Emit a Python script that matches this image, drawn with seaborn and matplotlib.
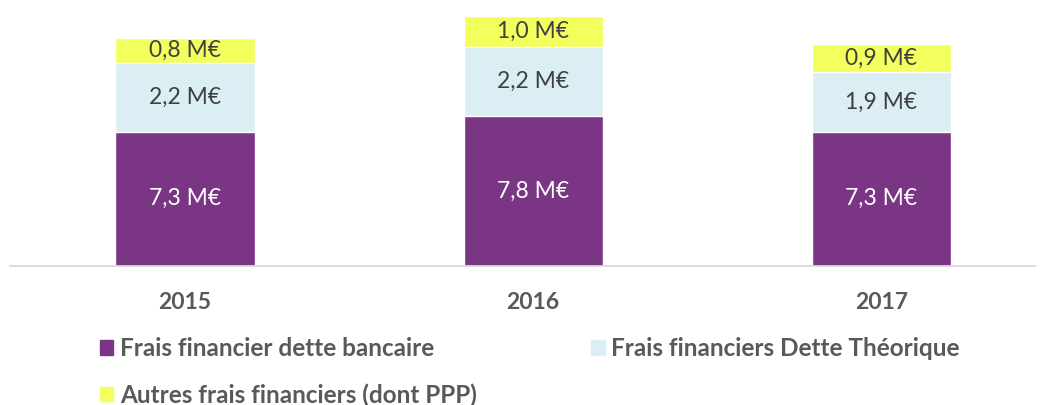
import matplotlib
matplotlib.use("Agg")
import matplotlib.pyplot as plt
import seaborn as sns
import pandas as pd
from matplotlib.patches import Patch

# values (M€)
years = ["2015", "2016", "2017"]
dette_bancaire = [7.3, 7.8, 7.3]
dette_theorique = [2.2, 2.2, 1.9]
autres_frais = [0.8, 1.0, 0.9]

series_names = ["Frais financier dette bancaire",
                "Frais financiers Dette Théorique",
                "Autres frais financiers (dont PPP)"]
colors = ["#7B3585", "#DAEEF3", "#F3FF5C"]

sns.set_style("white")
plt.rcParams["font.family"] = ["Lato", "DejaVu Sans"]

df = pd.DataFrame({"year": years,
                   "bancaire": dette_bancaire,
                   "theorique": dette_theorique,
                   "autres": autres_frais})
df["c1"] = df["bancaire"]
df["c2"] = df["c1"] + df["theorique"]
df["c3"] = df["c2"] + df["autres"]

fig = plt.figure(figsize=(10.4, 4.05), dpi=100)
ax = fig.add_axes([10 / 1040, 139 / 405, 1025 / 1040, 261 / 405])

y0 = 3.0
# stacked bars drawn as overlapping cumulative bars (top layer first)
for col, c in zip(["c3", "c2", "c1"], colors[::-1]):
    sns.barplot(data=df, x="year", y=col, color=c, width=0.40,
                saturation=1, ax=ax, errorbar=None)

ax.set_ylim(y0, 11.35)
ax.set_xlim(-0.503, 2.442)

# segment labels
lab_size = 16.5
for i, row in df.iterrows():
    ax.text(i, (y0 + row["c1"]) / 2, f"{row['bancaire']:.1f} M€".replace(".", ","),
            ha="center", va="center", color="white", fontsize=lab_size)
    ax.text(i, (row["c1"] + row["c2"]) / 2, f"{row['theorique']:.1f} M€".replace(".", ","),
            ha="center", va="center", color="#404040", fontsize=lab_size)
    ax.text(i, (row["c2"] + row["c3"]) / 2, f"{row['autres']:.1f} M€".replace(".", ","),
            ha="center", va="center", color="#404040", fontsize=lab_size)

sns.despine(ax=ax, left=True, top=True, right=True)
ax.spines["bottom"].set_color("#D9D9D9")
ax.spines["bottom"].set_linewidth(1.3)
ax.set_yticks([])
ax.set_xlabel("")
ax.set_ylabel("")
ax.tick_params(axis="x", length=0, pad=19, labelsize=16.5, labelcolor="#595959")
for lab in ax.get_xticklabels():
    lab.set_fontweight("bold")

handles = [Patch(color=colors[0]), Patch(color=colors[2]), Patch(color=colors[1])]
labels = [series_names[0], series_names[2], series_names[1]]
leg = fig.legend(handles, labels, ncol=2, loc="upper left",
                 bbox_to_anchor=(100 / 1040, 1 - 337 / 405), frameon=False,
                 borderpad=0, borderaxespad=0,
                 prop={"weight": "bold", "size": 17.5}, handlelength=0.55,
                 handleheight=0.55, handletextpad=0.28, columnspacing=4.7,
                 labelspacing=0.95)
for t in leg.get_texts():
    t.set_color("#595959")

fig.savefig("out.png", dpi=100)
